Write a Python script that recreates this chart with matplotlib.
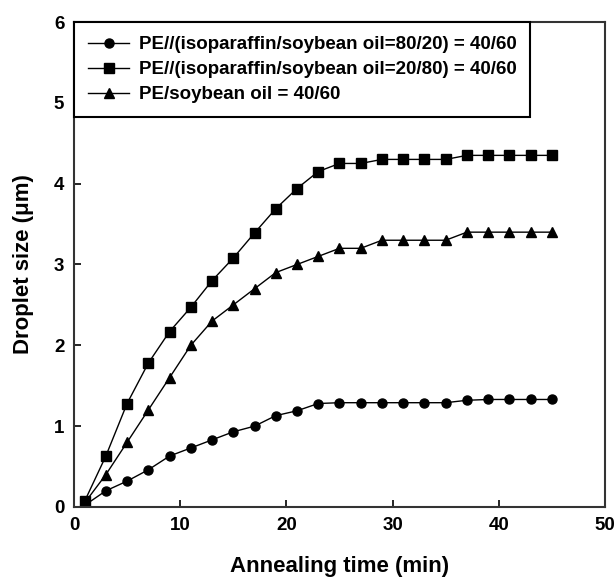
import matplotlib
matplotlib.use("Agg")
import matplotlib.pyplot as plt

plt.rcParams['font.family'] = ['Liberation Sans', 'DejaVu Sans']
plt.rcParams['font.weight'] = 'bold'

# annealing time (min)
time = [1, 3, 5, 7, 9, 11, 13, 15, 17, 19, 21, 23, 25, 27, 29, 31, 33, 35, 37, 39, 41, 43, 45]

# droplet size (um)
iso80 = [0.02, 0.2, 0.32, 0.46, 0.63, 0.73, 0.83, 0.93, 1.0, 1.13, 1.19, 1.28,
         1.29, 1.29, 1.29, 1.29, 1.29, 1.29, 1.32, 1.33, 1.33, 1.33, 1.33]
iso20 = [0.07, 0.63, 1.28, 1.78, 2.17, 2.47, 2.8, 3.08, 3.39, 3.69, 3.94, 4.15,
         4.25, 4.25, 4.3, 4.3, 4.3, 4.3, 4.35, 4.35, 4.35, 4.35, 4.35]
soy = [0.05, 0.4, 0.8, 1.2, 1.6, 2.0, 2.3, 2.5, 2.7, 2.9, 3.0, 3.1,
       3.2, 3.2, 3.3, 3.3, 3.3, 3.3, 3.4, 3.4, 3.4, 3.4, 3.4]

labels = ['PE//(isoparaffin/soybean oil=80/20) = 40/60',
          'PE//(isoparaffin/soybean oil=20/80) = 40/60',
          'PE/soybean oil = 40/60']

fig = plt.figure(figsize=(6.15, 5.79), dpi=100)
ax = fig.add_axes([0.1203, 0.1244, 0.8634, 0.8376])

ax.plot(time, iso80, color='black', lw=1.0, marker='o', ms=6.5, label=labels[0])
ax.plot(time, iso20, color='black', lw=1.0, marker='s', ms=7.5, label=labels[1])
ax.plot(time, soy, color='black', lw=1.0, marker='^', ms=7.5, label=labels[2])

ax.set_xlim(0, 50)
ax.set_ylim(0, 6)
ax.set_xticks([0, 10, 20, 30, 40, 50])
ax.set_yticks([0, 1, 2, 3, 4, 5, 6])
ax.tick_params(direction='in', length=5, width=1.2, labelsize=13.5, pad=7)
for lab in ax.get_xticklabels() + ax.get_yticklabels():
    lab.set_fontweight('bold')
for s in ax.spines.values():
    s.set_linewidth(1.5)
    s.set_color('#333333')

ax.set_xlabel('Annealing time (min)', fontsize=16, fontweight='bold', labelpad=16)
ax.set_ylabel('Droplet size (\u03bcm)', fontsize=16, fontweight='bold', labelpad=14)

leg = ax.legend(loc='upper left', bbox_to_anchor=(0, 1), borderaxespad=0,
                fancybox=False, edgecolor='black', framealpha=1,
                prop={'size': 13.5, 'weight': 'bold'}, handlelength=2.2,
                handletextpad=0.5, labelspacing=0.42, borderpad=0.75)
leg.get_frame().set_linewidth(1.5)

fig.savefig('out.png', dpi=100)
